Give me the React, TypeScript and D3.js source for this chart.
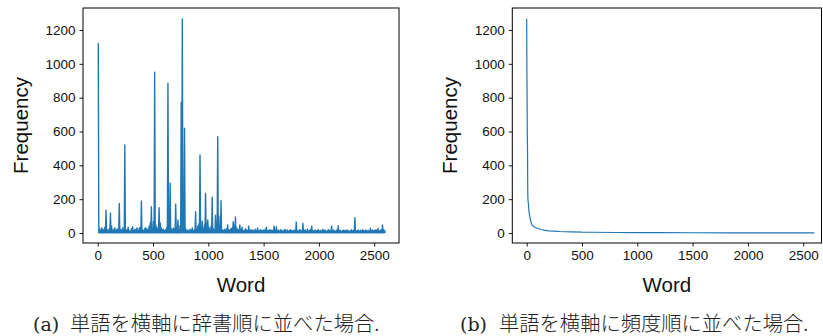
import { useEffect, useRef } from 'react';
import * as d3 from 'd3';

// Words in dictionary order, grouped 10 words per bin: peak frequency in each bin
const BIN_SIZE = 10;
const dictBinPeaks: number[] = [
  1120, 28, 14, 30, 22, 18, 35, 135, 20, 12, 26, 118, 40, 15, 22, 30, 12, 25, 18, 175,
  22, 15, 30, 18, 520, 12, 20, 34, 16, 10, 25, 38, 14, 22, 18, 30, 12, 28, 35, 190,
  20, 14, 26, 32, 18, 24, 40, 60, 155, 22, 70, 950, 48, 35, 24, 150, 60, 30, 18, 22,
  14, 20, 35, 885, 40, 295, 25, 18, 30, 24, 171, 35, 77, 20, 45, 772, 1266, 40, 619, 28,
  12, 18, 10, 22, 15, 30, 12, 20, 126, 18, 40, 55, 461, 30, 70, 25, 48, 235, 60, 77,
  35, 22, 40, 211, 25, 18, 106, 40, 569, 100, 28, 191, 20, 14, 22, 18, 24, 47, 15, 20,
  25, 30, 67, 45, 95, 30, 22, 18, 47, 20, 35, 15, 12, 25, 18, 14, 41, 16, 20, 12,
  18, 10, 22, 14, 30, 12, 16, 20, 10, 18, 14, 22, 34, 12, 16, 20, 14, 18, 12, 41,
  15, 37, 12, 18, 10, 20, 14, 12, 16, 22, 12, 18, 10, 15, 20, 12, 14, 18, 10, 65,
  14, 12, 20, 16, 12, 57, 14, 18, 10, 22, 12, 16, 20, 41, 14, 10, 18, 12, 15, 20,
  12, 16, 10, 22, 14, 18, 12, 10, 20, 14, 16, 41, 12, 18, 10, 14, 20, 43, 12, 16,
  10, 14, 18, 12, 16, 18, 12, 10, 14, 20, 12, 16, 90, 14, 12, 18, 10, 16, 12, 20,
  14, 12, 18, 10, 16, 12, 28, 14, 18, 12, 16, 20, 14, 28, 12, 16, 20, 47, 18, 14,
];
const dictMinFreq = 1;

// Words sorted by frequency: rank -> frequency
const rankedRanks: number[] = [
  0, 1, 2, 3, 4, 5, 6, 7, 8, 9, 10, 11, 12, 13, 14, 15, 16, 17, 18, 19, 20, 25, 30, 40, 50,
  60, 80, 100, 130, 160, 200, 250, 300, 400, 500, 600, 800, 1000, 1200, 1500, 1800, 2100, 2400, 2599,
];
const rankedFreqs: number[] = [
  1266, 1120, 953, 885, 772, 619, 569, 520, 461, 295, 235, 211, 191, 190, 183, 175, 171, 155, 150, 142, 135, 110, 90, 62, 47,
  40, 32, 27, 21, 17, 13, 11, 9, 7, 5, 4.5, 3, 2, 2, 1.5, 1, 1, 1, 1,
];

const xTicks = [0, 500, 1000, 1500, 2000, 2500];
const yTicks = [0, 200, 400, 600, 800, 1000, 1200];
const captions = [
  { tag: '(a)', text: '単語を横軸に辞書順に並べた場合.' },
  { tag: '(b)', text: '単語を横軸に頻度順に並べた場合.' },
];

const WIDTH = 823;
const HEIGHT = 336;
const LINE_COLOR = '#1f77b4';
const SANS = '"Liberation Sans", Arial, Helvetica, sans-serif';

const App = () => {
  const svgRef = useRef<SVGSVGElement>(null);

  useEffect(() => {
    if (!svgRef.current) return;
    const svg = d3.select(svgRef.current);
    svg.selectAll('*').remove();

    const panels = [
      { left: 83, right: 399, xDomain: [-133, 2724], labelX: 21, capTagX: 33, capTextX: 70 },
      { left: 512.3, right: 821.5, xDomain: [-130, 2665], labelX: 450, capTagX: 460, capTextX: 499 },
    ];
    const top = 8;
    const bottom = 243;

    const dictPoints: [number, number][] = [];
    dictBinPeaks.forEach((p, i) => {
      dictPoints.push([i * BIN_SIZE, i === 0 ? p : dictMinFreq]);
      dictPoints.push([i * BIN_SIZE + BIN_SIZE / 2, p]);
    });
    dictPoints.push([dictBinPeaks.length * BIN_SIZE - 1, dictMinFreq]);
    const rankedPoints: [number, number][] = rankedRanks.map((r, i) => [r, rankedFreqs[i]]);
    const series = [dictPoints, rankedPoints];

    panels.forEach((p, idx) => {
      const x = d3.scaleLinear().domain(p.xDomain).range([p.left, p.right]);
      const y = d3.scaleLinear().domain([-59, 1330]).range([bottom, top]);
      const g = svg.append('g');

      // data line
      const line = d3.line<[number, number]>()
        .x(d => x(d[0]))
        .y(d => y(d[1]));
      g.append('path')
        .datum(series[idx])
        .attr('d', line)
        .attr('fill', 'none')
        .attr('stroke', LINE_COLOR)
        .attr('stroke-width', idx === 0 ? 1.4 : 1.2)
        .attr('stroke-linejoin', 'round');

      // axes
      const xAxis = d3.axisBottom(x).tickValues(xTicks).tickSize(3.5).tickPadding(4).tickFormat(d3.format('d'));
      const yAxis = d3.axisLeft(y).tickValues(yTicks).tickSize(3.5).tickPadding(4).tickFormat(d3.format('d'));
      const gx = g.append('g').attr('transform', `translate(0,${bottom})`).call(xAxis);
      const gy = g.append('g').attr('transform', `translate(${p.left},0)`).call(yAxis);
      [gx, gy].forEach(ax => {
        ax.select('.domain').remove();
        ax.selectAll('line').attr('stroke', '#000').attr('stroke-width', 0.9);
        ax.selectAll('text')
          .attr('fill', '#111')
          .style('font-family', SANS)
          .style('font-size', '13.5px');
      });
      gx.selectAll('text').attr('dy', '0.75em').attr('y', 7);

      // frame
      g.append('rect')
        .attr('x', p.left)
        .attr('y', top)
        .attr('width', p.right - p.left)
        .attr('height', bottom - top)
        .attr('fill', 'none')
        .attr('stroke', '#000')
        .attr('stroke-width', 1);

      // axis labels
      g.append('text')
        .attr('x', (p.left + p.right) / 2)
        .attr('y', 292)
        .attr('text-anchor', 'middle')
        .style('font-family', SANS)
        .style('font-size', '20.5px')
        .attr('fill', '#111')
        .text('Word');
      g.append('text')
        .attr('transform', `translate(${p.labelX + 7},${(top + bottom) / 2}) rotate(-90)`)
        .attr('text-anchor', 'middle')
        .style('font-family', SANS)
        .style('font-size', '20.5px')
        .attr('fill', '#111')
        .text('Frequency');

      // caption
      const cap = g.append('text').attr('y', 331).attr('fill', '#222');
      cap.append('tspan')
        .attr('x', p.capTagX)
        .style('font-family', '"DejaVu Serif", "Liberation Serif", serif')
        .style('font-size', '19px')
        .text(captions[idx].tag);
      cap.append('tspan')
        .attr('x', p.capTextX)
        .style('font-family', '"Noto Sans CJK JP", sans-serif')
        .style('font-size', '20.3px')
        .style('font-weight', 300)
        .text(captions[idx].text);
    });
  }, []);

  return (
    <svg
      ref={svgRef}
      width={WIDTH}
      height={HEIGHT}
      style={{ position: 'absolute', left: 0, top: 0, background: '#fff' }}
    />
  );
};

export default App;
